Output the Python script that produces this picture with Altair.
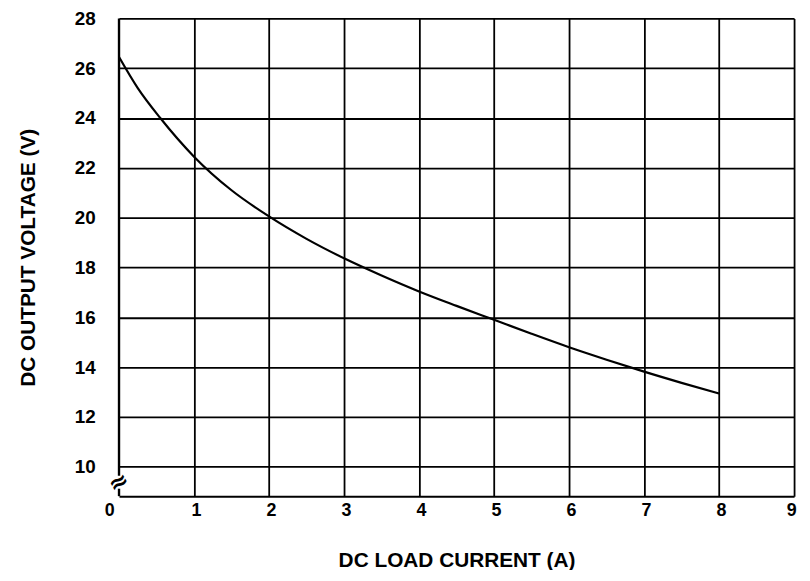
import altair as alt
import pandas as pd

# Curve data
current = [0.0, 0.25, 0.55, 1.0, 1.5, 2.0, 2.5, 3.0, 3.5, 4.0, 4.5, 5.0,
           5.5, 6.0, 6.5, 7.0, 7.5, 8.0]
voltage = [26.45, 25.2, 24.0, 22.45, 21.1, 20.05, 19.15, 18.37, 17.68,
           17.04, 16.46, 15.9, 15.34, 14.8, 14.3, 13.82, 13.37, 12.94]

x_ticks = [0, 1, 2, 3, 4, 5, 6, 7, 8, 9]
y_ticks = [10, 12, 14, 16, 18, 20, 22, 24, 26, 28]
x_domain = [0, 9]
y_domain = [8.82, 28]

# Left border drawn in two pieces (axis break)
border_x = [0, 0]
border_y0 = [8.82, 9.64]
border_y1 = [9.12, 28]

# Axis break symbol
break_x = [0]
break_y = [9.36]
break_text = ["≈"]

FONT = "Liberation Sans"

curve_df = pd.DataFrame({"current": current, "voltage": voltage})
border_df = pd.DataFrame({"x": border_x, "y0": border_y0, "y1": border_y1})
break_df = pd.DataFrame({"x": break_x, "y": break_y, "t": break_text})

xscale = alt.Scale(domain=x_domain, nice=False, zero=False)
yscale = alt.Scale(domain=y_domain, nice=False, zero=False)

x_axis = alt.Axis(
    values=x_ticks,
    format="d",
    title="DC LOAD CURRENT (A)",
    grid=True,
    gridColor="black",
    gridWidth=1.8,
    gridOpacity={"condition": {"test": "datum.value == 0", "value": 0}, "value": 1},
    domain=True,
    domainColor="black",
    domainWidth=2,
    ticks=False,
    labelPadding=6,
    labelFont=FONT,
    labelFontSize=18,
    labelFontWeight="bold",
    labelColor="black",
    labelOffset={"condition": {"test": "datum.value == 0", "value": -15}, "value": 2},
    titleFont=FONT,
    titleFontSize=21,
    titleFontWeight="bold",
    titleColor="black",
    titlePadding=30,
)

y_axis = alt.Axis(
    values=y_ticks,
    title="DC OUTPUT VOLTAGE (V)",
    grid=True,
    gridColor="black",
    gridWidth=1.8,
    domain=False,
    ticks=False,
    labelPadding=24,
    labelFont=FONT,
    labelFontSize=19,
    labelFontWeight="bold",
    labelColor="black",
    titleFont=FONT,
    titleFontSize=21,
    titleFontWeight="bold",
    titleColor="black",
    titlePadding=36,
)

line = alt.Chart(curve_df).mark_line(color="black", strokeWidth=2.2, interpolate="monotone").encode(
    x=alt.X("current:Q", scale=xscale, axis=x_axis),
    y=alt.Y("voltage:Q", scale=yscale, axis=y_axis),
)

border = alt.Chart(border_df).mark_rule(color="black", strokeWidth=2.4).encode(
    x=alt.X("x:Q", scale=xscale),
    y=alt.Y("y0:Q", scale=yscale),
    y2="y1:Q",
)

brk = alt.Chart(break_df).mark_text(
    font="DejaVu Sans", fontSize=24, fontWeight="bold", color="black", angle=330
).encode(
    x=alt.X("x:Q", scale=xscale),
    y=alt.Y("y:Q", scale=yscale),
    text="t:N",
)

chart = alt.layer(line, border, brk).properties(
    width=681,
    height=482,
    autosize=alt.AutoSizeParams(type="none"),
    padding={"left": 112, "top": 8, "right": 8, "bottom": 72},
    background="white",
).configure_view(stroke="transparent")

chart.save("out.html", embed_options={"renderer": "svg", "actions": False})
